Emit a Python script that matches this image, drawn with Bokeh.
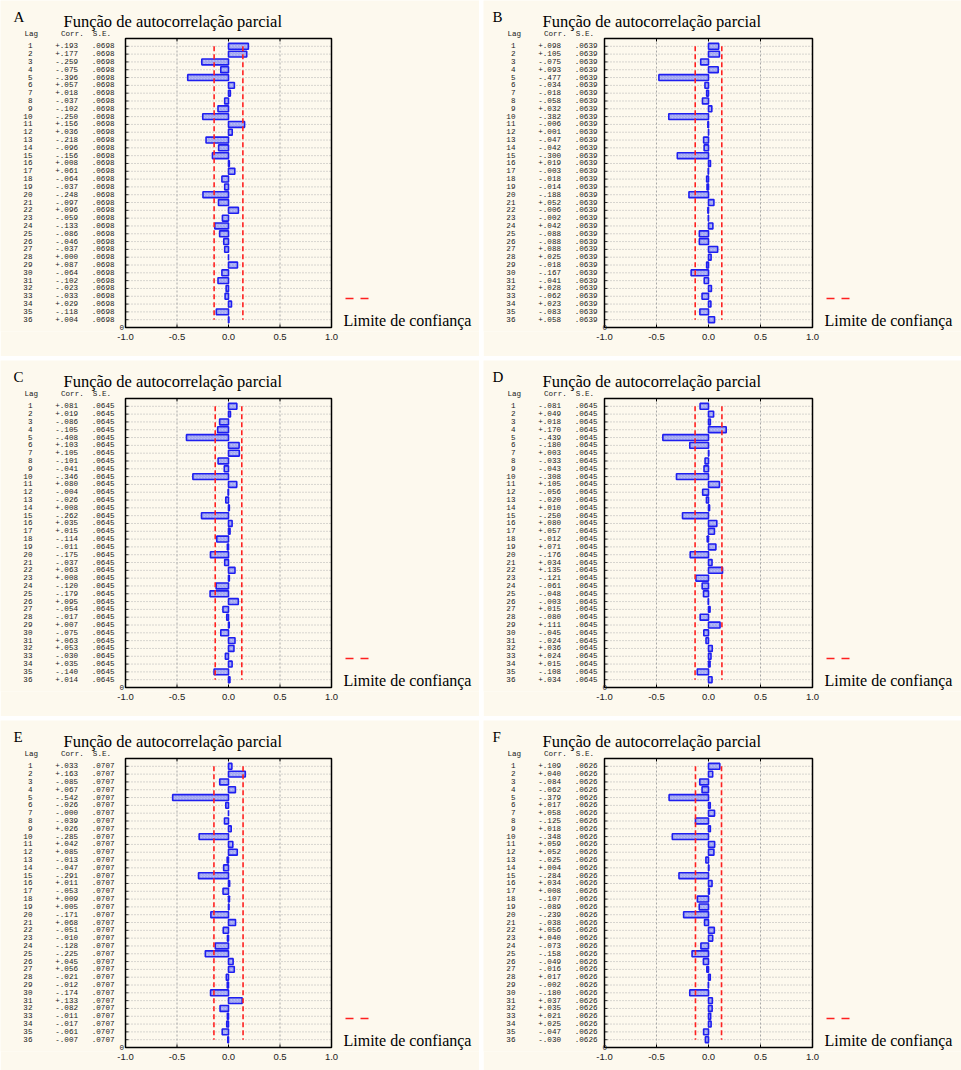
from bokeh.plotting import figure
from bokeh.models import (ColumnDataSource, Range1d, FixedTicker, Label, Arrow,
                          BoxAnnotation, PrintfTickFormatter)
from bokeh.core.properties import value
from bokeh.layouts import column, row
from bokeh.embed import file_html
from bokeh.resources import INLINE

# ---------------- data ----------------
lags = list(range(1, 37))
panel_letters = ["A", "B", "C", "D", "E", "F"]
title_text = "Função de autocorrelação parcial"
legend_text = "Limite de confiança"
header_text = "Lag     Corr.  S.E."
x_ticks = [-1.0, -0.5, 0.0, 0.5, 1.0]
x_grid = [-0.5, 0.0, 0.5]

se_A = 0.0698
corr_A = [0.193, 0.177, -0.259, -0.075, -0.396, 0.057, 0.018, -0.037, -0.102, -0.250,
          0.156, 0.036, -0.218, -0.096, -0.156, 0.008, 0.061, -0.064, -0.037, -0.248,
          -0.097, 0.096, -0.059, -0.133, -0.086, -0.046, -0.037, 0.000, 0.087, -0.064,
          -0.102, -0.023, -0.033, 0.029, -0.118, 0.004]
se_B = 0.0639
corr_B = [0.098, 0.105, -0.075, 0.093, -0.477, -0.034, -0.018, -0.058, 0.032, -0.382,
          -0.006, 0.001, -0.047, -0.042, -0.300, 0.019, -0.003, -0.018, -0.014, -0.188,
          0.052, -0.006, -0.002, 0.042, -0.088, -0.088, 0.088, 0.025, -0.018, -0.167,
          -0.041, 0.028, -0.062, 0.023, -0.083, 0.058]
se_C = 0.0645
corr_C = [0.081, 0.019, -0.086, -0.105, -0.408, 0.103, 0.105, -0.101, -0.041, -0.346,
          0.080, -0.004, -0.026, 0.008, -0.262, 0.035, 0.015, -0.114, -0.011, -0.175,
          -0.037, 0.063, 0.008, -0.120, -0.179, 0.095, -0.054, -0.017, 0.007, -0.075,
          0.063, 0.053, -0.030, 0.035, -0.140, 0.014]
se_D = 0.0645
corr_D = [-0.081, 0.049, 0.018, 0.170, -0.439, -0.180, 0.003, -0.033, -0.043, -0.308,
          0.105, -0.056, -0.020, 0.010, -0.250, 0.080, 0.057, -0.012, 0.071, -0.176,
          0.034, 0.135, -0.121, -0.061, -0.048, -0.003, 0.015, -0.080, 0.111, -0.045,
          -0.024, 0.036, 0.024, 0.015, -0.108, 0.034]
se_E = 0.0707
corr_E = [0.033, 0.163, -0.085, 0.067, -0.542, -0.026, -0.0, -0.039, 0.026, -0.285,
          0.042, 0.085, -0.013, -0.047, -0.291, 0.011, -0.053, 0.009, 0.005, -0.171,
          0.068, -0.051, -0.010, -0.128, -0.225, 0.045, 0.056, -0.021, -0.012, -0.174,
          0.133, -0.082, -0.011, -0.017, -0.061, -0.007]
se_F = 0.0626
corr_F = [0.109, 0.040, -0.084, -0.062, -0.379, 0.017, 0.058, -0.125, 0.018, -0.348,
          0.059, 0.052, -0.025, 0.004, -0.284, 0.034, 0.008, -0.107, -0.089, -0.239,
          -0.038, 0.056, 0.040, -0.073, -0.158, -0.049, -0.016, 0.017, -0.002, -0.180,
          0.037, 0.035, 0.021, 0.025, -0.047, -0.030]

# ---------------- style / layout constants ----------------
BG = "#FDF9EE"
NB = "\u00a0"
MONO = "Liberation Mono"
SERIF = "Liberation Serif"
SANS = "Liberation Sans"
TXT = "#1a1a1a"
BOX_TOP = 38          # px of plot box top inside a panel
BOX_H = 289           # px height of plot box
FRAME_BOTTOM = 331    # px where the figure frame ends (x axis below)
N_ROWS = 37           # box spans 0..37 in lag units
TICK_PX = 3


def row_label(k, c, se):
    cs = f"{c:+.3f}".replace("0.", ".", 1)
    ss = f"{se:.4f}"[1:]
    s = f"{k:>2}" + "     " + cs + "   " + ss
    return s.replace(" ", NB)


def make_panel(letter, corr, se, width, height, left, fw):
    kx = fw / 2.0
    ky = BOX_H / N_ROWS

    def px2x(px):
        return (px - left) / kx - 1.0

    def py2y(py):
        return (py - BOX_TOP) / ky

    x_range = Range1d(px2x(0), px2x(width))
    y_range = Range1d(py2y(FRAME_BOTTOM), py2y(0))

    p = figure(width=width, height=height, x_range=x_range, y_range=y_range,
               output_backend="svg", toolbar_location=None, tools="", title=None,
               y_axis_location=None,
               min_border_left=0, min_border_right=0, min_border_top=0,
               min_border_bottom=height - FRAME_BOTTOM,
               background_fill_color=BG, border_fill_color=BG,
               outline_line_color=None)
    p.xgrid.visible = False
    p.ygrid.visible = False

    src = ColumnDataSource(dict(
        lag=lags, corr=corr,
        label=[row_label(k, c, se) for k, c in zip(lags, corr)],
        lim_pos=[2 * se] * len(lags), lim_neg=[-2 * se] * len(lags)))

    # x axis (tick labels under the box)
    xa = p.xaxis[0]
    xa.ticker = FixedTicker(ticks=x_ticks)
    xa.formatter = PrintfTickFormatter(format="%.1f")
    xa.axis_line_color = None
    xa.major_tick_in = 0
    xa.major_tick_out = 0
    xa.minor_tick_line_color = None
    xa.major_label_standoff = 2
    xa.major_label_text_font = SANS
    xa.major_label_text_font_size = "9.5px"
    xa.major_label_text_color = "#222222"

    # grid lines inside the box
    n_g = len(x_grid)
    p.segment(x0=x_grid, y0=[0] * n_g, x1=x_grid, y1=[N_ROWS] * n_g,
              line_color="#a8a8a8", line_dash="2 2", line_width=1)
    p.segment(x0=[-1] * len(lags), y0=lags, x1=[1] * len(lags), y1=lags,
              line_color="#b0b0b0", line_dash="1 2", line_width=1)

    # inward tick marks on the box
    dy = TICK_PX / ky
    dx = TICK_PX / kx
    p.segment(x0=x_grid, y0=[0] * n_g, x1=x_grid, y1=[dy] * n_g,
              line_color="black", line_width=1)
    p.segment(x0=x_grid, y0=[N_ROWS] * n_g, x1=x_grid, y1=[N_ROWS - dy] * n_g,
              line_color="black", line_width=1)
    p.segment(x0=[-1] * len(lags), y0=lags, x1=[-1 + dx] * len(lags), y1=lags,
              line_color="#333333", line_width=1)

    # bars
    p.hbar(y="lag", left=0, right="corr", height=0.75, source=src,
           fill_color="#B8BDF4", line_color="#1E1EF0", line_width=1.6,
           hatch_pattern="right_diagonal_line", hatch_color="#7078E6",
           hatch_alpha=0.7, hatch_scale=3, hatch_weight=0.6)

    # confidence limits
    for col in ("lim_pos", "lim_neg"):
        p.line(x=col, y="lag", source=src, line_color="#FF2020", line_width=1.6,
               line_dash="5 3")

    # plot box
    p.add_layout(BoxAnnotation(left=-1, right=1, top=0, bottom=N_ROWS,
                               fill_color=None, fill_alpha=0,
                               line_color="black", line_alpha=1.0, line_width=1.5))

    # text table on the left (Lag / Corr. / S.E.)
    p.text(x=px2x(114), y="lag", text="label", source=src, text_align="right",
           text_baseline="middle", text_font=value(MONO), text_font_size="7.6px",
           text_color=TXT)
    p.add_layout(Label(x=px2x(123.5), y=N_ROWS, text="0", text_align="right",
                       text_baseline="middle", text_font=MONO, text_font_size="7.6px",
                       text_color=TXT))
    p.add_layout(Label(x=px2x(24), y=py2y(33), text=header_text.replace(" ", NB),
                       text_align="left", text_baseline="middle", text_font=MONO,
                       text_font_size="7.6px", text_color=TXT))

    # letter and title
    p.add_layout(Label(x=px2x(left - 112), y=py2y(16), text=letter, text_align="left",
                       text_baseline="middle", text_font=SERIF, text_font_size="15px",
                       text_color="black"))
    p.add_layout(Label(x=px2x(left - 62), y=py2y(21), text=title_text, text_align="left",
                       text_baseline="middle", text_font=SERIF, text_font_size="16.5px",
                       text_color="black"))

    # legend
    p.add_layout(Arrow(end=None, x_start=px2x(left + fw + 14), y_start=py2y(298),
                       x_end=px2x(left + fw + 37), y_end=py2y(298),
                       line_color="#FF2020", line_width=1.6, line_dash="8 7"))
    p.add_layout(Label(x=px2x(left + fw + 12), y=py2y(320), text=legend_text,
                       text_align="left", text_baseline="middle", text_font=SERIF,
                       text_font_size="16px", text_color="black"))
    return p


pA = make_panel("A", corr_A, se_A, 479, 356, 125, 206)
pB = make_panel("B", corr_B, se_B, 478, 356, 121, 208)
pC = make_panel("C", corr_C, se_C, 479, 356, 125, 206)
pD = make_panel("D", corr_D, se_D, 478, 356, 121, 208)
pE = make_panel("E", corr_E, se_E, 479, 350, 125, 206)
pF = make_panel("F", corr_F, se_F, 478, 350, 121, 208)

layout = column(row(pA, pB, spacing=4), row(pC, pD, spacing=4), row(pE, pF, spacing=4),
                spacing=4)

open("out.html", "w").write(file_html(layout, INLINE))
